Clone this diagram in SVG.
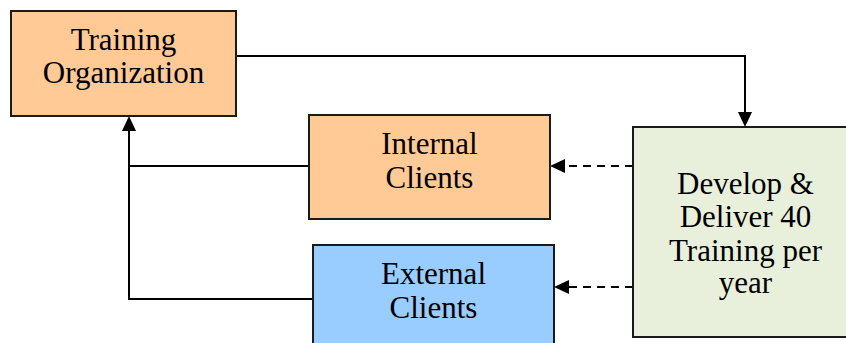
<svg xmlns="http://www.w3.org/2000/svg" width="846" height="343" viewBox="0 0 846 343">
<defs>
<style>
.box{stroke:#1a1a1a;stroke-width:2}
.t{font-family:"Liberation Serif","Times New Roman",serif;font-size:31px;fill:#000;text-anchor:middle}
.c{fill:none;stroke:#000;stroke-width:2}
.d{fill:none;stroke:#000;stroke-width:2;stroke-dasharray:8,6}
</style>
</defs>
<rect width="846" height="343" fill="#fff"/>
<g id="connectors">
<path class="c" d="M236,56 H745 V115" />
<path d="M738,112 L745,127 L752,112 z" fill="#000"/>
<path class="c" d="M309,166 H129 V130" />
<path class="c" d="M313,299 H129 V166" />
<path d="M122,131 L129,116 L136,131 z" fill="#000"/>
<path class="d" d="M633,166 H565" />
<path d="M565,159 L550,166 L565,173 z" fill="#000"/>
<path class="d" d="M633,287 H569" />
<path d="M569,280 L554,287 L569,294 z" fill="#000"/>
</g>
<g id="training-organization">
<rect class="box" x="11" y="11" width="225" height="105" fill="#FFCA96"/>
<text class="t" x="123.5" y="50">Training</text>
<text class="t" x="123.5" y="83">Organization</text>
</g>
<g id="internal-clients">
<rect class="box" x="309" y="115" width="241" height="104" fill="#FFCA96"/>
<text class="t" x="429.5" y="154">Internal</text>
<text class="t" x="429.5" y="188">Clients</text>
</g>
<g id="external-clients">
<rect class="box" x="313" y="245" width="241" height="110" fill="#99CCFF"/>
<text class="t" x="433.5" y="284">External</text>
<text class="t" x="433.5" y="318">Clients</text>
</g>
<g id="develop-deliver">
<rect class="box" x="633" y="127" width="230" height="210" fill="#E8F0DC"/>
<text class="t" x="745.5" y="194">Develop &amp;</text>
<text class="t" x="745.5" y="227">Deliver 40</text>
<text class="t" x="745.5" y="261">Training per</text>
<text class="t" x="745.5" y="293">year</text>
</g>
</svg>
